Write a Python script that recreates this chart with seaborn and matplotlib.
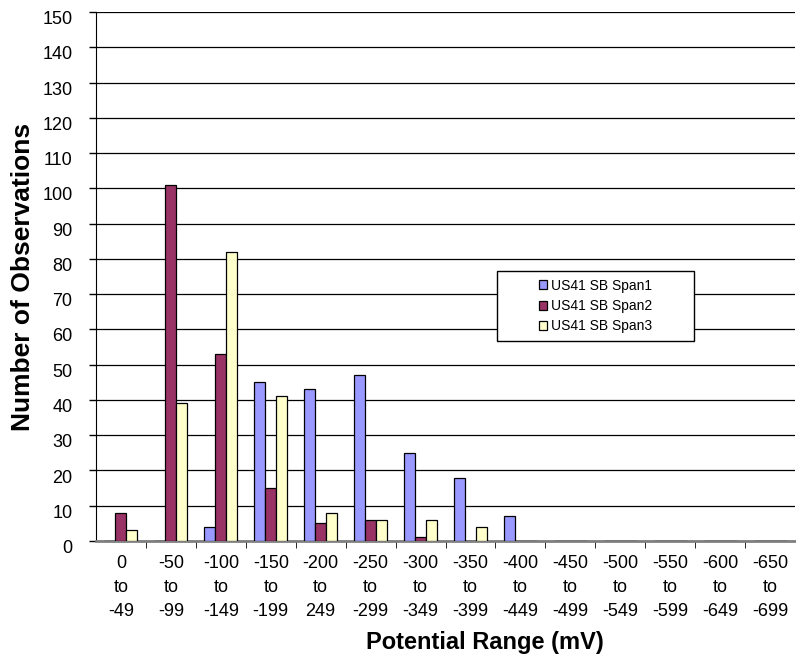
import matplotlib
matplotlib.use("Agg")
import matplotlib.pyplot as plt
import matplotlib.transforms as mtransforms
from matplotlib.patches import Rectangle
import seaborn as sns
import numpy as np
import pandas as pd

categories = ["0\nto\n-49", "-50\nto\n-99", "-100\nto\n-149", "-150\nto\n-199",
              "-200\nto\n249", "-250\nto\n-299", "-300\nto\n-349", "-350\nto\n-399",
              "-400\nto\n-449", "-450\nto\n-499", "-500\nto\n-549", "-550\nto\n-599",
              "-600\nto\n-649", "-650\nto\n-699"]
span1 = [0, 0, 4, 45, 43, 47, 25, 18, 7, 0, 0, 0, 0, 0]
span2 = [8, 101, 53, 15, 5, 6, 1, 0, 0, 0, 0, 0, 0, 0]
span3 = [3, 39, 82, 41, 8, 6, 6, 4, 0, 0, 0, 0, 0, 0]
series_names = ["US41 SB Span1", "US41 SB Span2", "US41 SB Span3"]
colors = ["#9999FF", "#993366", "#FFFFCC"]

df = pd.DataFrame({
    "range": categories * 3,
    "count": span1 + span2 + span3,
    "series": np.repeat(series_names, len(categories)),
})

sns.set_style("white")
plt.rcParams["font.family"] = ["Liberation Sans", "DejaVu Sans"]
plt.rcParams.update({"text.color": "black", "axes.labelcolor": "black",
                     "xtick.color": "black", "ytick.color": "black"})

W, H = 796, 660
fig = plt.figure(figsize=(W / 100, H / 100), dpi=100)
ax = fig.add_axes([96 / W, 1 - 541 / H, 699 / W, 529 / H])

sns.barplot(data=df, x="range", y="count", hue="series", hue_order=series_names,
            palette=colors, width=0.66, edgecolor="black", linewidth=0.9,
            saturation=1, ax=ax, zorder=3)

ax.set_ylim(0, 150)
ax.set_xlim(-0.5, len(categories) - 0.5)
ax.set_yticks(np.arange(0, 151, 10))
ax.yaxis.grid(True, color="black", linewidth=0.9, zorder=0)
ax.set_axisbelow(True)

for side in ["top", "right"]:
    ax.spines[side].set_visible(False)
ax.spines["left"].set_color("black")
ax.spines["bottom"].set_color("#808080")
ax.spines["bottom"].set_linewidth(2)

ax.tick_params(axis="y", direction="out", length=5, width=1, color="black",
               labelsize=13, left=True, pad=12, labelcolor="black")
ax.tick_params(axis="x", which="major", length=0, labelsize=13, pad=10,
               labelcolor="black")
ax.set_xticks(np.arange(0.5, len(categories) - 0.5, 1), minor=True)
ax.tick_params(axis="x", which="minor", direction="out", length=5, color="black",
               bottom=True)

# y tick labels sit a little below their gridlines in the original
shift = mtransforms.ScaledTranslation(0, -4 / 72, fig.dpi_scale_trans)
for lab in ax.get_yticklabels():
    lab.set_transform(lab.get_transform() + shift)
for lab in ax.get_xticklabels():
    lab.set_linespacing(1.55)

ax.set_xlabel("Potential Range (mV)", fontsize=17, fontweight="bold", color="black")
ax.xaxis.set_label_coords((485 - 96) / 699, -(631 - 541) / 529)
ax.set_ylabel("Number of Observations", fontsize=19, fontweight="bold", color="black")
ax.yaxis.set_label_coords(-(96 - 35) / 699, 0.5)

# legend box: framed rectangle with the entries centred inside it
bx0, by0, bw, bh = (497 - 96) / 699, (541 - 341) / 529, 197 / 699, 70 / 529
ax.add_patch(Rectangle((bx0, by0), bw, bh, transform=ax.transAxes, facecolor="white",
                       edgecolor="black", linewidth=1, zorder=5))
leg = ax.legend(loc="center", bbox_to_anchor=(bx0, by0, bw, bh), fontsize=10,
                frameon=False, handlelength=0.6, handleheight=0.6,
                handletextpad=0.3, labelspacing=0.45, borderaxespad=0)
leg.set_zorder(6)

fig.savefig("out.png", dpi=100)
